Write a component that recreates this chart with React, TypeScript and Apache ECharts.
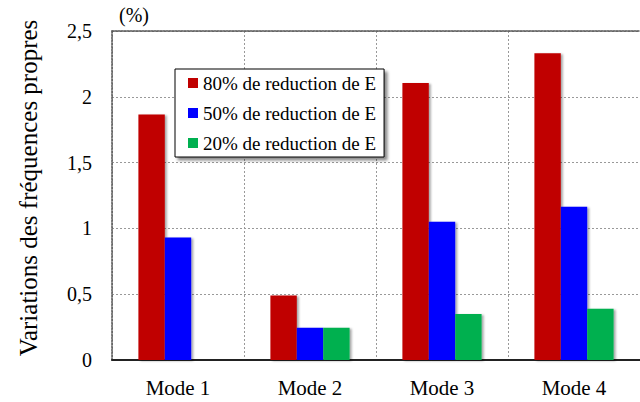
import React, { useEffect, useRef } from "react";
import * as echarts from "echarts";

const categories = ["Mode 1", "Mode 2", "Mode 3", "Mode 4"];
const seriesNames = ["80% de reduction de E", "50% de reduction de E", "20% de reduction de E"];
const reduction80 = [1.865, 0.49, 2.105, 2.33];
const reduction50 = [0.93, 0.245, 1.05, 1.165];
const reduction20 = [0, 0.245, 0.35, 0.39];
const colors = ["#C00000", "#0000FF", "#00B050"];
const yTitle = "Variations des fréquences propres";
const unitLabel = "(%)";

const FONT = "Liberation Serif";

export default function App() {
  const ref = useRef<HTMLDivElement>(null);
  useEffect(() => {
    if (!ref.current) return;
    const chart = echarts.init(ref.current, undefined, { renderer: "svg" });
    const barStyle = (c: string) => ({
      color: c,
      shadowColor: "rgba(0,0,0,0.35)",
      shadowOffsetX: 2,
      shadowOffsetY: 1,
      shadowBlur: 2,
    });
    const data = [reduction80, reduction50, reduction20];
    chart.setOption({
      animation: false,
      textStyle: { fontFamily: FONT },
      grid: { left: 112, top: 31, width: 535, bottom: 42, containLabel: false },
      legend: {
        orient: "vertical",
        left: 175,
        top: 69,
        width: 210,
        padding: [4, 8, 4, 13],
        itemGap: 10,
        itemWidth: 10,
        itemHeight: 10,
        itemTextGap: 5,
        icon: "rect",
        backgroundColor: "#fff",
        borderColor: "#000",
        borderWidth: 1,
        shadowColor: "rgba(0,0,0,0.45)",
        shadowOffsetX: 3,
        shadowOffsetY: 3,
        shadowBlur: 3,
        textStyle: { fontFamily: FONT, fontSize: 19, color: "#000", lineHeight: 20 },
        data: seriesNames,
      },
      xAxis: [
        {
          type: "category",
          data: categories,
          axisLine: { lineStyle: { color: "#222", width: 2 } },
          axisTick: { show: false },
          splitLine: { show: true, lineStyle: { color: "#999", type: [2, 2], width: 1 } },
          axisLabel: { fontFamily: FONT, fontSize: 21, color: "#000", margin: 17 },
        },
        {
          type: "category",
          data: categories,
          position: "top",
          axisLine: { show: true, lineStyle: { color: "#555", type: [2, 1], width: 1.5 } },
          axisTick: { show: false },
          axisLabel: { show: false },
          splitLine: { show: false },
        },
      ],
      yAxis: {
        type: "value",
        min: 0,
        max: 2.5,
        interval: 0.5,
        axisLine: { show: true, lineStyle: { color: "#555", type: [2, 1], width: 1.5 } },
        axisTick: { show: false },
        splitLine: { show: true, lineStyle: { color: "#999", type: [2, 2], width: 1 } },
        axisLabel: {
          fontFamily: FONT,
          fontSize: 20,
          color: "#000",
          margin: 20,
          formatter: (v: number) => String(v).replace(".", ","),
        },
      },
      graphic: [
        {
          type: "text",
          x: 28,
          y: 188,
          rotation: Math.PI / 2,
          style: {
            text: yTitle,
            fontFamily: FONT,
            fontSize: 25,
            fill: "#000",
            textAlign: "center",
            textVerticalAlign: "middle",
          },
        },
        {
          type: "text",
          x: 134,
          y: 15,
          style: {
            text: unitLabel,
            fontFamily: FONT,
            fontSize: 20,
            fill: "#000",
            textAlign: "center",
            textVerticalAlign: "middle",
          },
        },
      ],
      series: seriesNames.map((name, i) => ({
        name,
        type: "bar",
        data: data[i],
        barGap: "0%",
        barCategoryGap: "40%",
        itemStyle: barStyle(colors[i]),
      })),
    });
    return () => chart.dispose();
  }, []);
  return <div ref={ref} style={{ width: 640, height: 402, position: "absolute", left: 0, top: 0 }} />;
}
